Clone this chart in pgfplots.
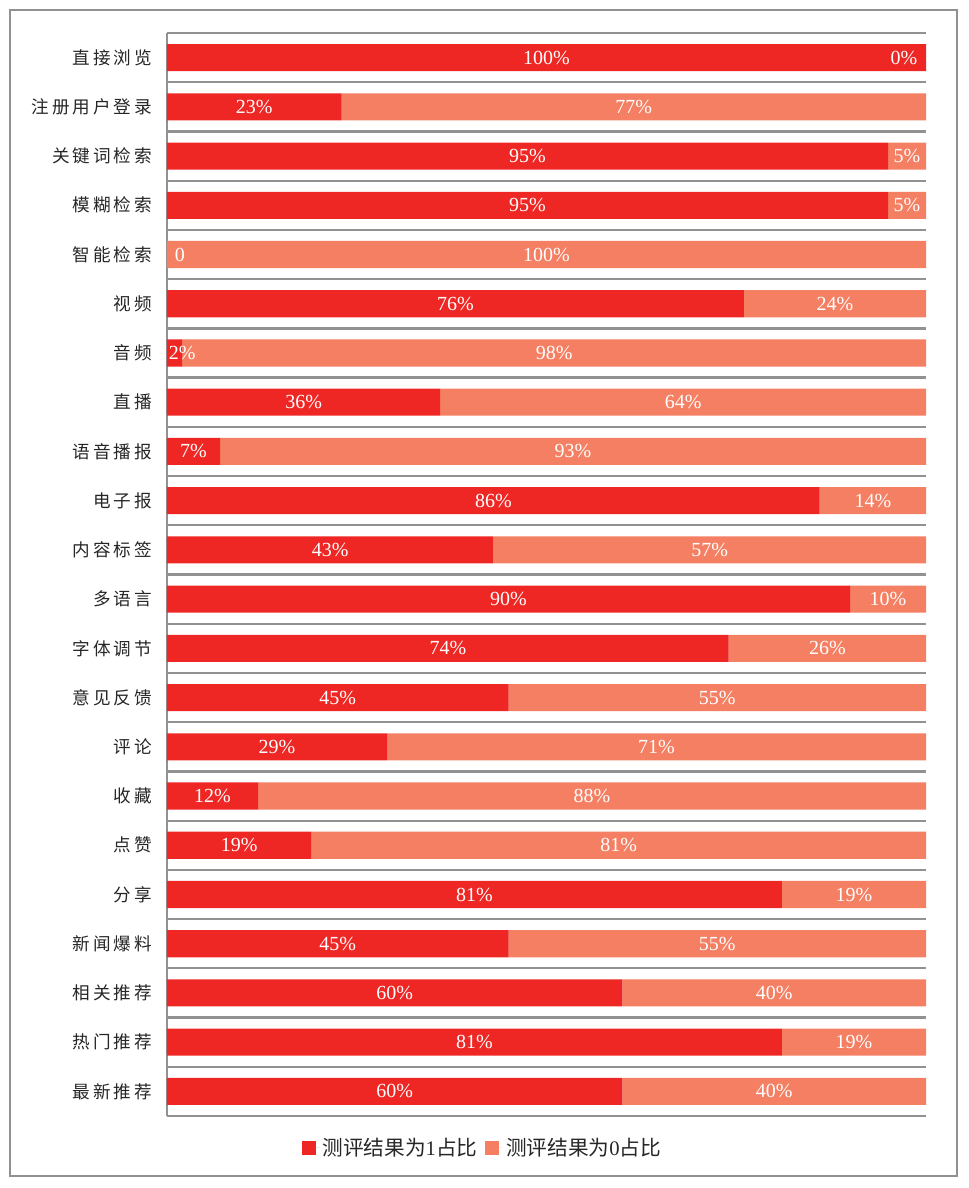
\documentclass[border=0pt]{standalone}
\usepackage{fontspec}
\setmainfont{Liberation Serif}
\newfontfamily\cjk{Noto Sans CJK SC}[LetterSpace=16]
\newfontfamily\cjklg{Noto Sans CJK SC}
\usepackage{pgfplots}
\pgfplotsset{compat=1.18}
\definecolor{barone}{RGB}{238,39,36}
\definecolor{barzero}{RGB}{244,127,99}
\definecolor{rulegray}{RGB}{145,145,145}
\begin{document}
\begin{tikzpicture}
% frame round the whole chart and the page size
\path (-125.25pt,-54pt) rectangle (601.5pt,837pt);
\draw[rulegray, line width=2.2pt] (-117.75pt,-45pt) rectangle (592.5pt,829.5pt);

\begin{axis}[%
width=569.25pt,
height=812.25pt,
scale only axis,
xbar stacked,
bar width=0.55,
xmin=0, xmax=100,
ymin=-0.5, ymax=21.5,
y dir=reverse,
axis x line=none,
axis y line*=left,
axis line style={rulegray, line width=1.5pt},
ytick={0,...,21},
yticklabels={直接浏览,注册用户登录,关键词检索,模糊检索,智能检索,视频,音频,直播,语音播报,电子报,内容标签,多语言,字体调节,意见反馈,评论,收藏,点赞,分享,新闻爆料,相关推荐,热门推荐,最新推荐},
yticklabel style={font=\cjk\fontsize{13.2}{15}\selectfont, text=black!85, xshift=-8pt},
minor ytick={-0.5,0.5,...,21.5},
yminorgrids,
minor grid style={rulegray, line width=1.7pt},
major tick length=0pt,
minor tick length=0pt,
legend style={at={(0.416,-0.0295)}, anchor=center, legend columns=2, draw=none, fill=none,
  font=\fontsize{15.5}{17}\selectfont, text=black!85,
  /tikz/every even column/.append style={column sep=4pt}},
legend cell align=left,
legend image code/.code={\fill[#1] (0pt,-5.25pt) rectangle (10.5pt,5.25pt); \path (0pt,0pt) -- (13.5pt,0pt);}
]
\addplot[fill=barone, draw=none] coordinates {
(100,0) (23,1) (95,2) (95,3) (0,4) (76,5) (2,6) (36,7) (7,8) (86,9) (43,10)
(90,11) (74,12) (45,13) (29,14) (12,15) (19,16) (81,17) (45,18) (60,19) (81,20) (60,21)
};
\addlegendentry{{\cjklg 测评结果为}1{\cjklg 占比}}

\addplot[fill=barzero, draw=none] coordinates {
(0,0) (77,1) (5,2) (5,3) (100,4) (24,5) (98,6) (64,7) (93,8) (14,9) (57,10)
(10,11) (26,12) (55,13) (71,14) (88,15) (81,16) (19,17) (55,18) (40,19) (19,20) (40,21)
};
\addlegendentry{{\cjklg 测评结果为}0{\cjklg 占比}}
\end{axis}

% value labels, an overlay with the same box
\begin{axis}[%
width=569.25pt,
height=812.25pt,
scale only axis,
hide axis,
clip=false,
xmin=0, xmax=100,
ymin=-0.5, ymax=21.5,
y dir=reverse,
nodes near coords,
point meta=explicit symbolic,
every node near coord/.append style={anchor=center, text=white, inner sep=0pt,
  font=\fontsize{15}{15}\selectfont}
]
\addplot[draw=none, mark=none] coordinates {
(50,0) [100\%] (11.5,1) [23\%] (47.5,2) [95\%] (47.5,3) [95\%] (1.7,4) [0]
(38,5) [76\%] (2.0,6) [2\%] (18,7) [36\%] (3.5,8) [7\%] (43,9) [86\%]
(21.5,10) [43\%] (45,11) [90\%] (37,12) [74\%] (22.5,13) [45\%] (14.5,14) [29\%]
(6,15) [12\%] (9.5,16) [19\%] (40.5,17) [81\%] (22.5,18) [45\%] (30,19) [60\%]
(40.5,20) [81\%] (30,21) [60\%]
};
\addplot[draw=none, mark=none] coordinates {
(97.1,0) [0\%] (61.5,1) [77\%] (97.5,2) [5\%] (97.5,3) [5\%] (50,4) [100\%]
(88,5) [24\%] (51,6) [98\%] (68,7) [64\%] (53.5,8) [93\%] (93,9) [14\%]
(71.5,10) [57\%] (95,11) [10\%] (87,12) [26\%] (72.5,13) [55\%] (64.5,14) [71\%]
(56,15) [88\%] (59.5,16) [81\%] (90.5,17) [19\%] (72.5,18) [55\%] (80,19) [40\%]
(90.5,20) [19\%] (80,21) [40\%]
};
\end{axis}
\end{tikzpicture}
\end{document}
